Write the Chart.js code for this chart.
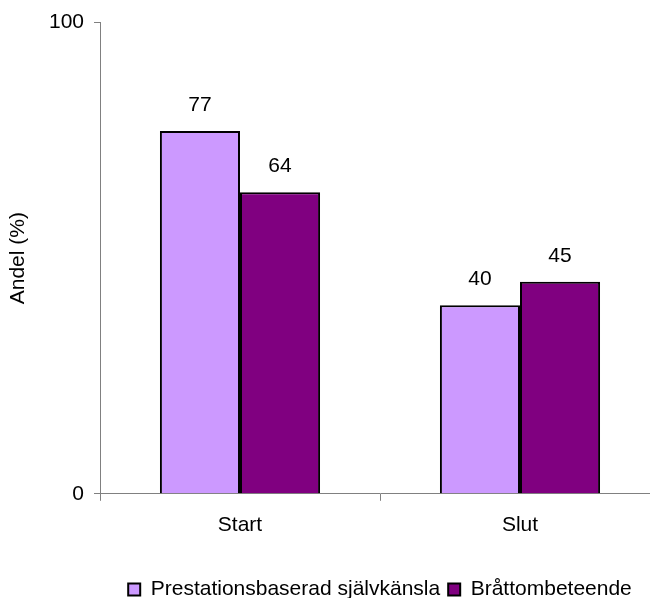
<!DOCTYPE html>
<html>
<head>
<meta charset="utf-8">
<script src="https://cdn.jsdelivr.net/npm/chart.js@4"></script>
<style>
  html, body { margin: 0; padding: 0; background: #fff; }
  #wrap { width: 650px; height: 598px; overflow: hidden; }
</style>
</head>
<body>
<div id="wrap"><canvas id="chart" width="700" height="598"></canvas></div>
<script>
const categories = ['Start', 'Slut'];
const seriesNames = ['Prestationsbaserad självkänsla', 'Bråttombeteende'];
const prestation = [77, 40];
const brattom = [64, 45];
const yTicks = [0, 100];

const font = { family: 'Liberation Sans, Arial, sans-serif', size: 21 };

// value labels above each bar
const barValues = {
    id: 'barValues',
    afterDatasetsDraw(chart) {
        const ctx = chart.ctx;
        ctx.save();
        ctx.font = `${font.size}px ${font.family}`;
        ctx.fillStyle = '#000';
        ctx.textAlign = 'center';
        ctx.textBaseline = 'alphabetic';
        chart.data.datasets.forEach((ds, i) => {
            chart.getDatasetMeta(i).data.forEach((bar, j) => {
                ctx.fillText(ds.data[j], bar.x, bar.y - 20);
            });
        });
        ctx.restore();
    }
};

new Chart(document.getElementById('chart'), {
    type: 'bar',
    data: {
        labels: categories,
        datasets: [
            {
                label: seriesNames[0],
                data: prestation,
                backgroundColor: '#CC99FF',
                borderColor: '#000',
                borderWidth: 2
            },
            {
                label: seriesNames[1],
                data: brattom,
                backgroundColor: '#800080',
                borderColor: '#000',
                borderWidth: 2
            }
        ]
    },
    options: {
        responsive: false,
        animation: false,
        devicePixelRatio: 1,
        layout: { padding: { top: 10, right: 40, left: 0, bottom: -12 } },
        datasets: { bar: { barPercentage: 1, categoryPercentage: 0.572 } },
        plugins: {
            legend: {
                position: 'bottom',
                fullSize: false,
                labels: {
                    color: '#000',
                    font: font,
                    boxWidth: 12,
                    boxHeight: 12,
                    padding: 8,
                    useBorderRadius: false
                }
            },
            tooltip: { enabled: false }
        },
        scales: {
            x: {
                afterFit(scale) { scale.height += 21; },
                grid: { drawOnChartArea: false, drawTicks: true, tickLength: 7, color: '#808080', offset: true },
                border: { color: '#808080', width: 1 },
                ticks: { color: '#000', font: font, padding: 12 }
            },
            y: {
                min: yTicks[0],
                max: yTicks[yTicks.length - 1],
                afterBuildTicks(scale) {
                    scale.ticks = yTicks.map(v => ({ value: v }));
                },
                afterFit(scale) { scale.width = 100; },
                grid: { drawOnChartArea: false, drawTicks: true, tickLength: 6, color: '#808080' },
                border: { color: '#808080', width: 1 },
                ticks: { color: '#000', font: font, padding: 10 },
                title: {
                    display: true,
                    text: 'Andel (%)',
                    color: '#000',
                    font: font,
                    padding: { top: 6, bottom: 0 }
                }
            }
        }
    },
    plugins: [barValues]
});
</script>
</body>
</html>
